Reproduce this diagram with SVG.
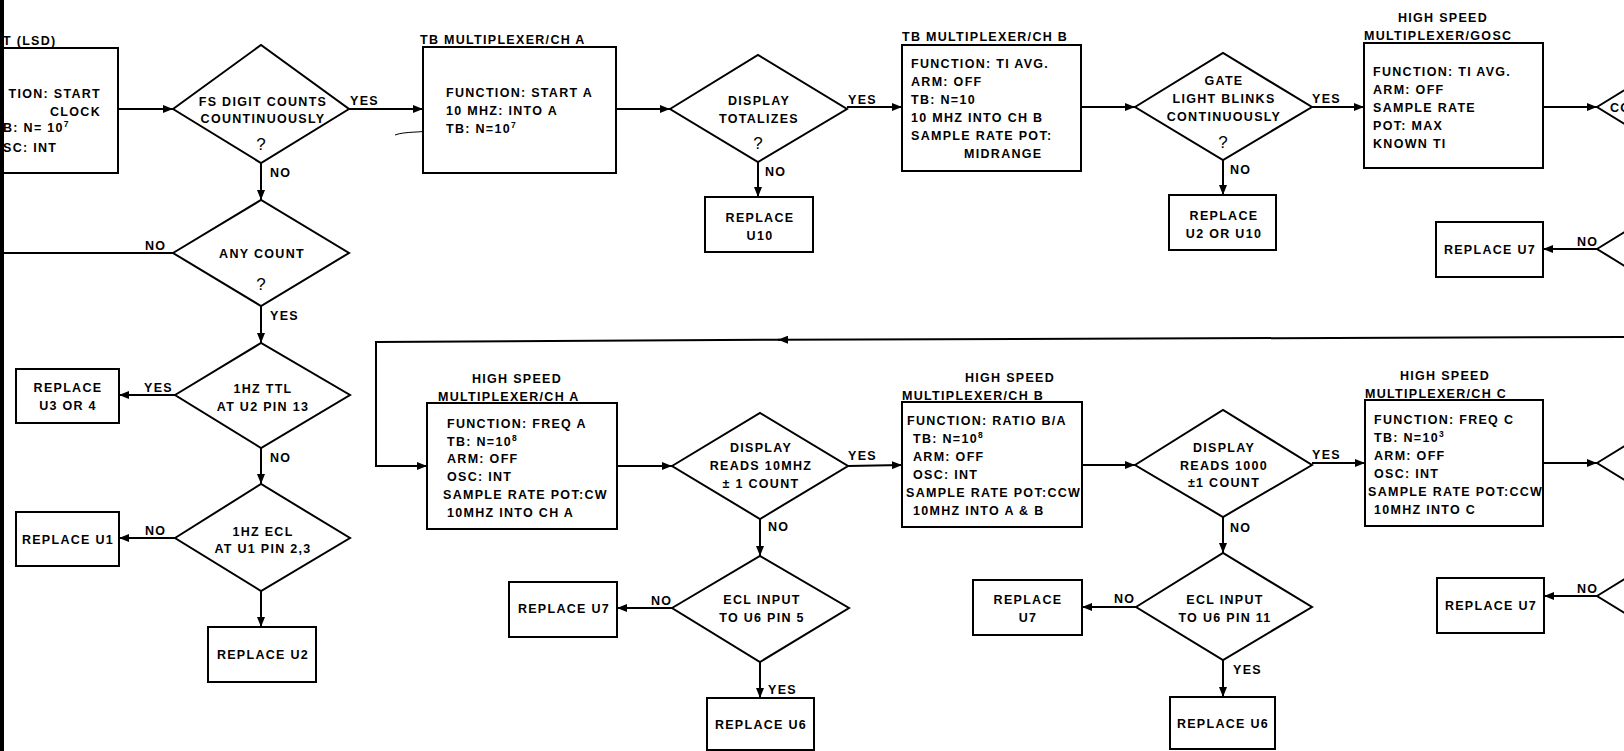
<svg xmlns="http://www.w3.org/2000/svg" width="1624" height="751" viewBox="0 0 1624 751">
<defs>
<style>
.t{font-family:"Liberation Sans",Arial,sans-serif;font-weight:bold;font-size:12.5px;letter-spacing:1.3px;fill:#000}
.c{text-anchor:middle}
.r{text-anchor:end}
.q{font-family:"Liberation Sans",Arial,sans-serif;font-size:17px;fill:#000;text-anchor:middle}
.n{fill:#fff;stroke:#000;stroke-width:2}
.e{fill:none;stroke:#000;stroke-width:2}
.a{marker-end:url(#ah)}
.s{font-size:8.5px}
</style>
<marker id="ah" markerUnits="userSpaceOnUse" markerWidth="10" markerHeight="8" refX="10" refY="4" orient="auto">
<path d="M0,0 L10,4 L0,8 z" fill="#000"/>
</marker>
</defs>
<rect width="1624" height="751" fill="#fff"/>

<g id="connectors">
<path class="e a" d="M118,109 L173,109"/>
<path class="e a" d="M349,109 L423,109"/>
<path class="e a" d="M261,163 L261,200"/>
<path class="e" d="M173,253 L4,253"/>
<path class="e a" d="M261,306 L261,343"/>
<path class="e a" d="M175,395 L119,395"/>
<path class="e a" d="M261,448 L261,484"/>
<path class="e a" d="M175,538 L119,538"/>
<path class="e a" d="M261,591 L261,627"/>
<path class="e a" d="M616,109 L670,109"/>
<path class="e a" d="M847,107 L902,107"/>
<path class="e a" d="M758,162 L758,197"/>
<path class="e a" d="M1081,107 L1135,107"/>
<path class="e a" d="M1312,107 L1364,107"/>
<path class="e a" d="M1223,160 L1223,195"/>
<path class="e a" d="M1543,107 L1597,107"/>
<path class="e a" d="M1597,249 L1543,249"/>
<path class="e a" d="M1624,337 L778,339.7"/>
<path class="e a" d="M780,339.7 L376,342 L376,466 L427,466"/>
<path class="e a" d="M617,466 L672,466"/>
<path class="e a" d="M848,466 L902,465"/>
<path class="e a" d="M760,519 L760,556"/>
<path class="e a" d="M672,608 L617,608"/>
<path class="e a" d="M760,662 L760,698"/>
<path class="e a" d="M1082,465 L1135,465"/>
<path class="e a" d="M1312,463 L1365,463"/>
<path class="e a" d="M1223,517 L1223,553"/>
<path class="e a" d="M1136,607 L1082,607"/>
<path class="e a" d="M1223,660 L1223,697"/>
<path class="e a" d="M1543,463 L1597,463"/>
<path class="e a" d="M1597,596 L1544,596"/>
<text class="t" x="350" y="105">YES</text>
<text class="t" x="270" y="177">NO</text>
<text class="t" x="145" y="250">NO</text>
<text class="t" x="270" y="320">YES</text>
<text class="t" x="144" y="392">YES</text>
<text class="t" x="270" y="462">NO</text>
<text class="t" x="145" y="535">NO</text>
<text class="t" x="848" y="104">YES</text>
<text class="t" x="765" y="176">NO</text>
<text class="t" x="1312" y="103">YES</text>
<text class="t" x="1230" y="174">NO</text>
<text class="t" x="1577" y="246">NO</text>
<text class="t" x="848" y="460">YES</text>
<text class="t" x="768" y="531">NO</text>
<text class="t" x="651" y="605">NO</text>
<text class="t" x="768" y="694">YES</text>
<text class="t" x="1312" y="459">YES</text>
<text class="t" x="1230" y="532">NO</text>
<text class="t" x="1114" y="603">NO</text>
<text class="t" x="1233" y="674">YES</text>
<text class="t" x="1577" y="593">NO</text>
<path d="M395,135 C405,131 424,133 430,130 C435,127 437,121 440,117" fill="none" stroke="#000" stroke-width="1"/>
</g>

<g id="box-start">
<rect class="n" x="-10" y="48" width="128" height="125"/>
<text class="t" x="3" y="45">T (LSD)</text>
<text class="t r" x="101" y="98">TION: START</text>
<text class="t r" x="101" y="116">CLOCK</text>
<text class="t" x="3" y="132">B: N= 10<tspan class="s" dy="-5">7</tspan></text>
<text class="t" x="3" y="152">SC: INT</text>
</g>

<g id="d-fs-digit">
<polygon class="n" points="173,109 261,45 349,109 261,163"/>
<text class="t c" x="263" y="106">FS DIGIT COUNTS</text>
<text class="t c" x="263" y="123">COUNTINUOUSLY</text>
<text class="q" x="261" y="150">?</text>
</g>

<g id="d-any-count">
<polygon class="n" points="173,253 261,200 349,253 261,306"/>
<text class="t c" x="262" y="258">ANY COUNT</text>
<text class="q" x="261" y="290">?</text>
</g>

<g id="d-1hz-ttl">
<polygon class="n" points="175,395 261,343 350,395 261,448"/>
<text class="t c" x="263" y="393">1HZ TTL</text>
<text class="t c" x="263" y="411">AT U2 PIN 13</text>
</g>

<g id="b-u3">
<rect class="n" x="16" y="369" width="103" height="54"/>
<text class="t c" x="68" y="392">REPLACE</text>
<text class="t c" x="68" y="410">U3 OR 4</text>
</g>

<g id="d-1hz-ecl">
<polygon class="n" points="175,538 261,484 350,538 261,591"/>
<text class="t c" x="263" y="536">1HZ ECL</text>
<text class="t c" x="263" y="553">AT U1 PIN 2,3</text>
</g>

<g id="b-u1">
<rect class="n" x="16" y="512" width="103" height="54"/>
<text class="t c" x="68" y="544">REPLACE U1</text>
</g>

<g id="b-u2">
<rect class="n" x="208" y="627" width="108" height="55"/>
<text class="t c" x="263" y="659">REPLACE U2</text>
</g>

<g id="b-tb-a">
<rect class="n" x="423" y="47" width="193" height="126"/>
<text class="t" x="420" y="44">TB MULTIPLEXER/CH A</text>
<text class="t" x="446" y="97">FUNCTION: START A</text>
<text class="t" x="446" y="115">10 MHZ: INTO A</text>
<text class="t" x="446" y="133">TB: N=10<tspan class="s" dy="-5">7</tspan></text>
</g>

<g id="d-totalizes">
<polygon class="n" points="670,109 758,55 847,109 758,162"/>
<text class="t c" x="759" y="105">DISPLAY</text>
<text class="t c" x="759" y="123">TOTALIZES</text>
<text class="q" x="758" y="149">?</text>
</g>

<g id="b-u10">
<rect class="n" x="705" y="197" width="108" height="55"/>
<text class="t c" x="760" y="222">REPLACE</text>
<text class="t c" x="760" y="240">U10</text>
</g>

<g id="b-tb-b">
<rect class="n" x="902" y="45" width="179" height="126"/>
<text class="t" x="902" y="41">TB MULTIPLEXER/CH B</text>
<text class="t" x="911" y="68">FUNCTION: TI AVG.</text>
<text class="t" x="911" y="86">ARM: OFF</text>
<text class="t" x="911" y="104">TB: N=10</text>
<text class="t" x="911" y="122">10 MHZ INTO CH B</text>
<text class="t" x="911" y="140">SAMPLE RATE POT:</text>
<text class="t" x="964" y="158">MIDRANGE</text>
</g>

<g id="d-gate">
<polygon class="n" points="1135,107 1223,53 1312,107 1223,160"/>
<text class="t c" x="1224" y="85">GATE</text>
<text class="t c" x="1224" y="103">LIGHT BLINKS</text>
<text class="t c" x="1224" y="121">CONTINUOUSLY</text>
<text class="q" x="1223" y="148">?</text>
</g>

<g id="b-u2-u10">
<rect class="n" x="1169" y="195" width="107" height="55"/>
<text class="t c" x="1224" y="220">REPLACE</text>
<text class="t c" x="1224" y="238">U2 OR U10</text>
</g>

<g id="b-hs-gosc">
<rect class="n" x="1364" y="43" width="179" height="125"/>
<text class="t c" x="1443" y="22">HIGH SPEED</text>
<text class="t" x="1364" y="40">MULTIPLEXER/GOSC</text>
<text class="t" x="1373" y="76">FUNCTION: TI AVG.</text>
<text class="t" x="1373" y="94">ARM: OFF</text>
<text class="t" x="1373" y="112">SAMPLE RATE</text>
<text class="t" x="1373" y="130">POT: MAX</text>
<text class="t" x="1373" y="148">KNOWN TI</text>
</g>

<g id="d-right-1">
<polygon class="n" points="1597,107 1685,53 1773,107 1685,161"/>
<text class="t" x="1610" y="112">CO</text>
</g>

<g id="b-u7-a">
<rect class="n" x="1436" y="222" width="107" height="55"/>
<text class="t c" x="1490" y="254">REPLACE U7</text>
</g>

<g id="d-right-2">
<polygon class="n" points="1597,249 1685,195 1773,249 1685,303"/>
</g>

<g id="b-hs-a">
<rect class="n" x="427" y="403" width="190" height="126"/>
<text class="t c" x="517" y="383">HIGH SPEED</text>
<text class="t" x="438" y="401">MULTIPLEXER/CH A</text>
<text class="t" x="447" y="428">FUNCTION: FREQ A</text>
<text class="t" x="447" y="446">TB: N=10<tspan class="s" dy="-5">8</tspan></text>
<text class="t" x="447" y="463">ARM: OFF</text>
<text class="t" x="447" y="481">OSC: INT</text>
<text class="t" x="443" y="499">SAMPLE RATE POT:CW</text>
<text class="t" x="447" y="517">10MHZ INTO CH A</text>
</g>

<g id="d-10mhz">
<polygon class="n" points="672,466 760,413 848,466 760,519"/>
<text class="t c" x="761" y="452">DISPLAY</text>
<text class="t c" x="761" y="470">READS 10MHZ</text>
<text class="t c" x="761" y="488">± 1 COUNT</text>
</g>

<g id="b-u7-b">
<rect class="n" x="509" y="582" width="108" height="55"/>
<text class="t c" x="564" y="613">REPLACE U7</text>
</g>

<g id="d-ecl-5">
<polygon class="n" points="672,608 760,556 849,608 760,662"/>
<text class="t c" x="762" y="604">ECL INPUT</text>
<text class="t c" x="762" y="622">TO U6 PIN 5</text>
</g>

<g id="b-u6-a">
<rect class="n" x="707" y="698" width="107" height="52"/>
<text class="t c" x="761" y="729">REPLACE U6</text>
</g>

<g id="b-hs-b">
<rect class="n" x="902" y="402" width="180" height="125"/>
<text class="t c" x="1010" y="382">HIGH SPEED</text>
<text class="t" x="902" y="400">MULTIPLEXER/CH B</text>
<text class="t" x="907" y="425">FUNCTION: RATIO B/A</text>
<text class="t" x="913" y="443">TB: N=10<tspan class="s" dy="-5">8</tspan></text>
<text class="t" x="913" y="461">ARM: OFF</text>
<text class="t" x="913" y="479">OSC: INT</text>
<text class="t" x="906" y="497">SAMPLE RATE POT:CCW</text>
<text class="t" x="913" y="515">10MHZ INTO A &amp; B</text>
</g>

<g id="d-1000">
<polygon class="n" points="1135,465 1223,410 1312,465 1223,517"/>
<text class="t c" x="1224" y="452">DISPLAY</text>
<text class="t c" x="1224" y="470">READS 1000</text>
<text class="t c" x="1224" y="487">±1 COUNT</text>
</g>

<g id="d-ecl-11">
<polygon class="n" points="1136,607 1223,553 1312,607 1223,660"/>
<text class="t c" x="1225" y="604">ECL INPUT</text>
<text class="t c" x="1225" y="622">TO U6 PIN 11</text>
</g>

<g id="b-u7-c">
<rect class="n" x="973" y="580" width="109" height="55"/>
<text class="t c" x="1028" y="604">REPLACE</text>
<text class="t c" x="1028" y="622">U7</text>
</g>

<g id="b-u6-b">
<rect class="n" x="1170" y="697" width="105" height="52"/>
<text class="t c" x="1223" y="728">REPLACE U6</text>
</g>

<g id="b-hs-c">
<rect class="n" x="1365" y="400" width="178" height="126"/>
<text class="t c" x="1445" y="380">HIGH SPEED</text>
<text class="t" x="1365" y="398">MULTIPLEXER/CH C</text>
<text class="t" x="1374" y="424">FUNCTION: FREQ C</text>
<text class="t" x="1374" y="442">TB: N=10<tspan class="s" dy="-5">3</tspan></text>
<text class="t" x="1374" y="460">ARM: OFF</text>
<text class="t" x="1374" y="478">OSC: INT</text>
<text class="t" x="1368" y="496">SAMPLE RATE POT:CCW</text>
<text class="t" x="1374" y="514">10MHZ INTO C</text>
</g>

<g id="d-right-3">
<polygon class="n" points="1597,463 1685,409 1773,463 1685,517"/>
</g>

<g id="b-u7-d">
<rect class="n" x="1437" y="578" width="107" height="55"/>
<text class="t c" x="1491" y="610">REPLACE U7</text>
</g>

<g id="d-right-4">
<polygon class="n" points="1597,596 1685,542 1773,596 1685,650"/>
</g>

<rect id="frame-edge" x="0" y="0" width="4" height="751" fill="#000"/>
</svg>
